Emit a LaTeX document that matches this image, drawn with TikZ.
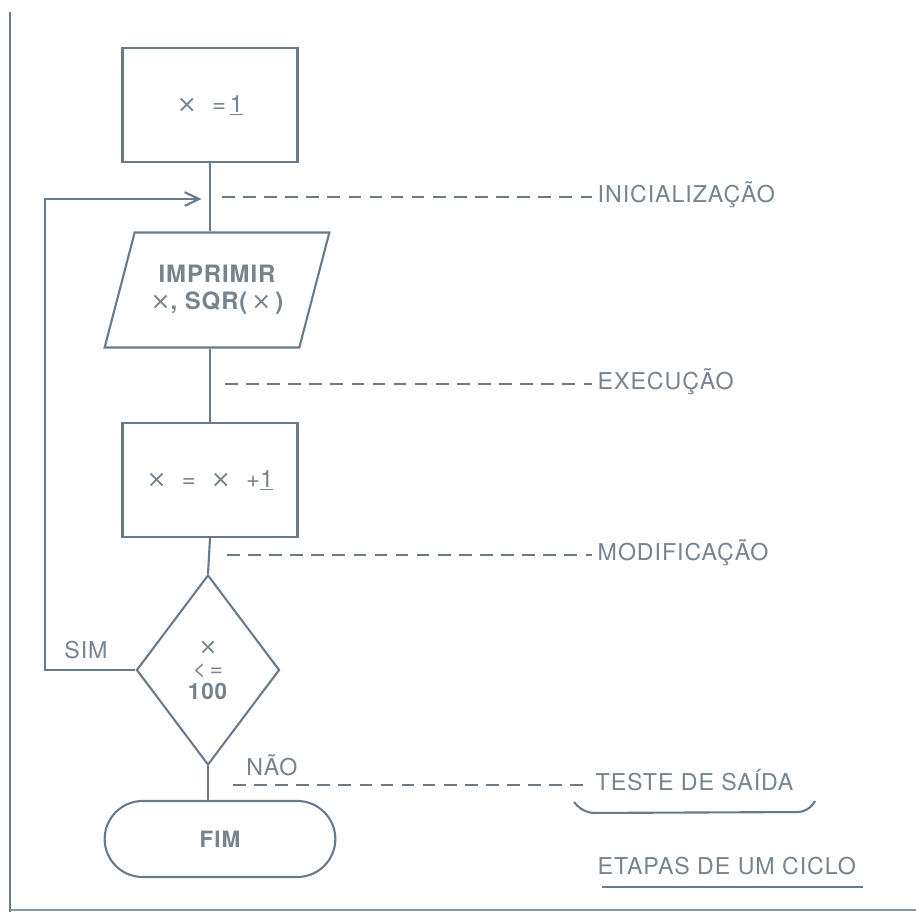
\documentclass[tikz,border=0pt]{standalone}
\usepackage{fontspec}
\setmainfont{TeX Gyre Heros}[LetterSpace=4]
\newfontfamily\symfont{DejaVu Sans}
\newcommand\tms{{\symfont\mdseries ×}}
\usetikzlibrary{arrows.meta, shapes.geometric, shapes.misc}
\definecolor{ink}{HTML}{6A7A88}
\definecolor{inktext}{HTML}{76848F}

\begin{document}
\begin{tikzpicture}[x=0.025cm, y=-0.025cm, line width=1.5pt, color=ink, text=inktext,
    >={Straight Barb[length=3.6mm,width=3.4mm]},
    procbox/.style={draw, rectangle, minimum width=4.375cm, minimum height=2.85cm, font=\fontsize{17}{20}\selectfont},
    iobox/.style={draw, trapezium, trapezium left angle=66, trapezium right angle=114, trapezium stretches=true,
                  minimum width=5.625cm, minimum height=2.875cm, align=center, font=\fontsize{17}{19}\selectfont\bfseries},
    testbox/.style={draw, diamond, minimum width=3.575cm, minimum height=4.75cm, inner sep=0pt, align=center,
                    font=\fontsize{16}{16}\selectfont},
    endbox/.style={draw, rounded rectangle, minimum width=6cm, minimum height=1.9cm, font=\fontsize{16}{18}\selectfont\bfseries},
    stage/.style={anchor=west, font=\fontsize{16.5}{18}\selectfont},
    guide/.style={line width=0.9pt, dash pattern=on 9pt off 6pt}]
     \useasboundingbox (0,0) rectangle (916,912);

     \node[procbox] (init)  at (210,105) {\tms\ \ =\,\underline{1}};
     \node[iobox]   (print) at (217,290) {IMPRIMIR\\ \tms, SQR(\,\tms\,)};
     \node[procbox] (incr)  at (210,480) {\tms\ \ =\ \ \tms\ \ +\underline{1}};
     \node[testbox] (test)  at (208,670) {\tms\\<\,=\\\textbf{100}};
     \node[endbox]  (fim)   at (220,839) {FIM};
     \coordinate (join) at (210,199);

     \node[font=\fontsize{16.5}{18}\selectfont] (yes) at (86,650) {SIM};
     \node[font=\fontsize{16.5}{18}\selectfont] (no)  at (272,765) {NÃO};

     % flow
     \draw (init.south) -- (init.south |- print.north);
     \draw (init.south |- print.south) -- (incr.north);
     \draw (incr.south) -- (test.north);
     \draw (test.south) -- (test.south |- fim.north);
     \draw[->, shorten >=6pt] (test.west) -- ++(-90,0) |- (join);

     % stages
     \node[stage] (lbinit) at (592,195) {INICIALIZAÇÃO};
     \node[stage] (lbexec) at (592,382) {EXECUÇÃO};
     \node[stage] (lbmod)  at (592,553) {MODIFICAÇÃO};
     \node[stage] (lbtest) at (590,780) {TESTE DE SAÍDA};
     \coordinate (ginit) at (222,197);
     \coordinate (gexec) at (225,384);
     \coordinate (gmod)  at (227,555);
     \coordinate (gtest) at (233,785);
     \draw[guide] (ginit) -- (ginit -| lbinit.west);
     \draw[guide] (gexec) -- (gexec -| lbexec.west);
     \draw[guide] (gmod)  -- (gmod -| lbmod.west);
     \draw[guide] (gtest) -- (gtest -| lbtest.west);
     \draw[rounded corners=7pt] (574,802) -- (584,813) -- (808,812) -- (815,801);

     \node[stage] (title) at (592,866) {ETAPAS DE UM CICLO};
     \draw[line width=1.8pt] (602,887) -- (863,887);

     % page edge
     \draw[line width=1.6pt] (10,12) -- (10,912);
     \draw[line width=2pt, ink!80] (10,910) -- (916,910);
\end{tikzpicture}
\end{document}
